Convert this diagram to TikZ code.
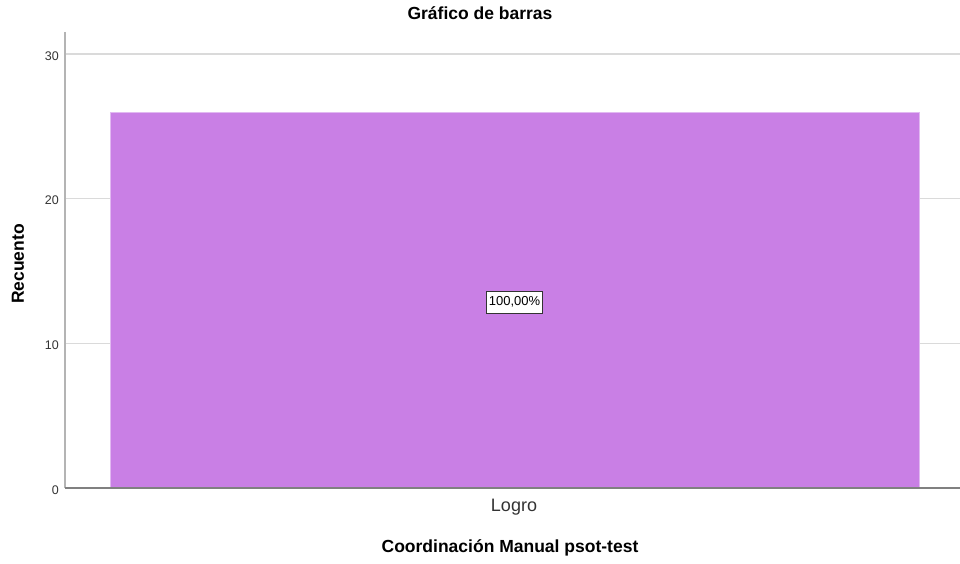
\documentclass[tikz,border=0pt]{standalone}
\usepackage{fontspec}
\setmainfont{Liberation Sans}
\usepackage{xcolor}
\usetikzlibrary{positioning}
\definecolor{barfill}{HTML}{C97FE5}
\definecolor{gridgray}{HTML}{DADADA}
\definecolor{axisgray}{HTML}{B4B4B4}
\definecolor{textgray}{HTML}{333333}

\begin{document}
\begin{tikzpicture}[
    x=1pt, y=-1pt,
    heading/.style={font=\fontsize{17.5}{20}\selectfont\bfseries, inner sep=0pt},
    ticklabel/.style={anchor=east, font=\fontsize{12.5}{14}\selectfont, text=textgray, inner sep=0pt},
    gridline/.style={gridgray, line width=1.3pt},
    bar/.style={rectangle, fill=barfill, draw=barfill!55!white, line width=0.8pt, inner sep=0pt},
    pct/.style={rectangle, draw=textgray, fill=white, line width=1pt, font=\fontsize{13}{15}\selectfont, inner xsep=2.5pt, minimum height=22pt}
]
    \useasboundingbox (0,0) rectangle (960,564);

    % Title
    \node[heading] (title) at (480,13) {Gráfico de barras};

    % Grid and tick labels
    \foreach \v in {10,20,30} {
        \draw[gridline] (65,{488-14.467*\v}) -- (960,{488-14.467*\v});
    }
    \foreach \v in {0,10,20,30} {
        \node[ticklabel] (tick\v) at (59,{490-14.467*\v}) {\v};
    }

    % Bar
    \node[bar, minimum width=809pt, minimum height=376pt] (bar) at (514.5,300) {};
    \node[pct] (share) at (514.5,302) {100,00\%};

    % Axes
    \coordinate (top) at (65,32);
    \coordinate (origin) at (65,488);
    \coordinate (end) at (960,488);
    \draw[axisgray, line width=1.5pt] (top) -- (origin);
    \draw[gray, line width=1.3pt] (origin) -- (end);

    % Axis labels
    \node[font=\fontsize{18}{20}\selectfont, text=textgray] (cat) at (514,507) {Logro};
    \node[heading] (xlabel) at (510,548) {Coordinación Manual psot-test};
    \node[heading, rotate=90] (ylabel) at (18,264) {Recuento};
\end{tikzpicture}
\end{document}
